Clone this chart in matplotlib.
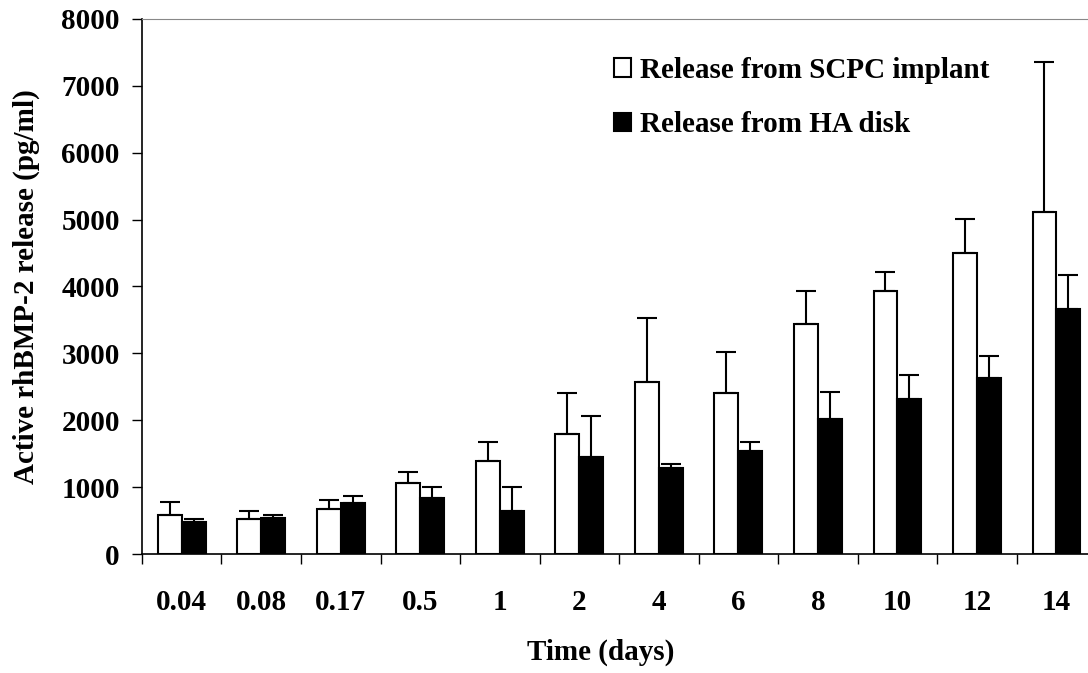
import numpy as np
import matplotlib
matplotlib.use("Agg")
import matplotlib.pyplot as plt

# Data
days = ["0.04", "0.08", "0.17", "0.5", "1", "2", "4", "6", "8", "10", "12", "14"]
scpc = [585, 530, 670, 1055, 1395, 1792, 2570, 2403, 3440, 3940, 4496, 5115]
scpc_err = [195, 113, 143, 175, 284, 612, 960, 615, 500, 274, 513, 2238]
ha = [478, 533, 758, 842, 643, 1457, 1287, 1538, 2019, 2323, 2633, 3658]
ha_err = [50, 50, 109, 159, 358, 606, 54, 135, 405, 353, 325, 507]

plt.rcParams["font.family"] = "Liberation Serif"
plt.rcParams["font.weight"] = "bold"

fig = plt.figure(figsize=(10.88, 6.73), dpi=100)
ax = fig.add_axes([0.1305, 0.1768, 0.877, 0.795])

x = np.arange(len(days))
w = 0.3
err_kw = dict(ecolor="black", elinewidth=1.5, capsize=7.5, capthick=1.5)

ax.bar(x - w / 2, scpc, w, color="white", edgecolor="black", linewidth=1.5,
       yerr=[np.zeros(len(scpc)), scpc_err], error_kw=err_kw,
       label="Release from SCPC implant")
ax.bar(x + w / 2, ha, w, color="black", edgecolor="black", linewidth=1.5,
       yerr=[np.zeros(len(ha)), ha_err], error_kw=err_kw,
       label="Release from HA disk")

ax.set_xlim(-0.5, len(days) - 0.5)
ax.set_ylim(0, 8000)
ax.set_yticks(np.arange(0, 8001, 1000))

# ticks between groups, labels at group centres
ax.set_xticks(np.arange(-0.5, len(days), 1))
ax.set_xticklabels([])
ax.set_xticks(x, minor=True)
ax.set_xticklabels(days, minor=True)
ax.tick_params(axis="x", which="major", direction="out", length=7, width=1)
ax.tick_params(axis="x", which="minor", length=0, pad=25, labelsize=21)
ax.tick_params(axis="y", direction="out", length=7, width=1, pad=9, labelsize=21)

ax.spines["top"].set_color("#888888")
ax.spines["right"].set_visible(False)
ax.spines["left"].set_linewidth(1.2)
ax.spines["bottom"].set_linewidth(1.2)

ax.set_xlabel("Time (days)", fontsize=21, fontweight="bold")
ax.xaxis.set_label_coords(0.481, -0.184)
ax.xaxis.label.set_va("center")
ax.set_ylabel("Active rhBMP-2 release (pg/ml)", fontsize=21, fontweight="bold")
ax.yaxis.set_label_coords(-0.121, 0.5)
ax.yaxis.label.set_va("center")

ax.legend(loc="upper left", bbox_to_anchor=(0.54, 0.955), bbox_transform=fig.transFigure,
          frameon=False, fontsize=21, handlelength=0.6, handleheight=0.6,
          handletextpad=0.3, labelspacing=0.95)

fig.savefig("out.png", dpi=100)
